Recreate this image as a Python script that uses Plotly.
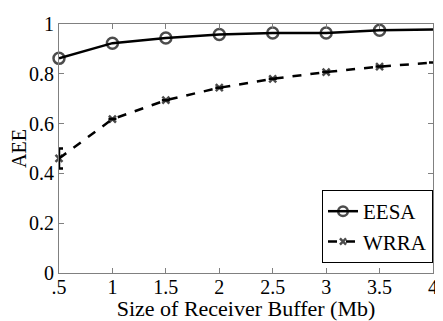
import plotly.graph_objects as go

buffer_mb = [0.5, 1, 1.5, 2, 2.5, 3, 3.5, 4]
eesa = [0.862, 0.923, 0.944, 0.958, 0.964, 0.964, 0.975, 0.978]
wrra = [0.46, 0.618, 0.694, 0.744, 0.780, 0.807, 0.829, 0.845]
wrra_err = [0.04, 0, 0, 0, 0, 0, 0, 0]
x_ticks = [0.5, 1, 1.5, 2, 2.5, 3, 3.5, 4]
x_labels = [".5", "1", "1.5", "2", "2.5", "3", "3.5", "4"]
y_ticks = [0, 0.2, 0.4, 0.6, 0.8, 1]
y_labels = ["0", "0.2", "0.4", "0.6", "0.8", "1"]

FONT = "'Liberation Serif', 'Times New Roman', Times, serif"

fig = go.Figure()
fig.add_trace(go.Scatter(
    x=buffer_mb, y=eesa, name="EESA", mode="lines+markers",
    line=dict(color="black", width=2.5),
    marker=dict(symbol="circle-open", size=[11]*7 + [0], color="black",
                line=dict(width=2.5, color="black")),
    cliponaxis=False,
))
fig.add_trace(go.Scatter(
    x=buffer_mb, y=wrra, name="WRRA", mode="lines+markers",
    line=dict(color="black", width=2.5, dash="dash"),
    marker=dict(symbol="x-thin-open", size=[7]*7 + [0], color="black",
                line=dict(width=2.5, color="black")),
    error_y=dict(type="data", array=wrra_err, color="black", thickness=2.5, width=4),
    cliponaxis=False,
))

axis_common = dict(
    showgrid=False, zeroline=False, showline=True, linecolor="#808080", linewidth=1,
    mirror="ticks", ticks="inside", ticklen=5, tickcolor="#808080",
    tickfont=dict(family=FONT, size=20, color="black"),
    ticklabeloverflow="allow",
)
fig.update_xaxes(range=[0.5, 4], tickvals=x_ticks, ticktext=x_labels,
                 ticklabelstandoff=-4,
                 title=dict(text="Size of Receiver Buffer (Mb)", font=dict(family=FONT, size=22, color="black"),
                            standoff=0),
                 **axis_common)
fig.update_yaxes(range=[0, 1], tickvals=y_ticks, ticktext=y_labels,
                 title=dict(text="AEE", font=dict(family=FONT, size=20, color="black"), standoff=0),
                 **axis_common)

# page body has an 8px default margin, so the figure is sized to fit inside the window
fig.update_layout(
    width=435, height=313,
    margin=dict(l=51, r=5, t=7, b=48),
    paper_bgcolor="white", plot_bgcolor="white",
    font=dict(family=FONT, color="black"),
    legend=dict(x=1, xanchor="right", y=0.04, yanchor="bottom",
                bordercolor="black", borderwidth=1, bgcolor="white",
                font=dict(family=FONT, size=21, color="black"),
                tracegroupgap=0, itemwidth=30),
    showlegend=True,
)

fig.write_html("out.html")
